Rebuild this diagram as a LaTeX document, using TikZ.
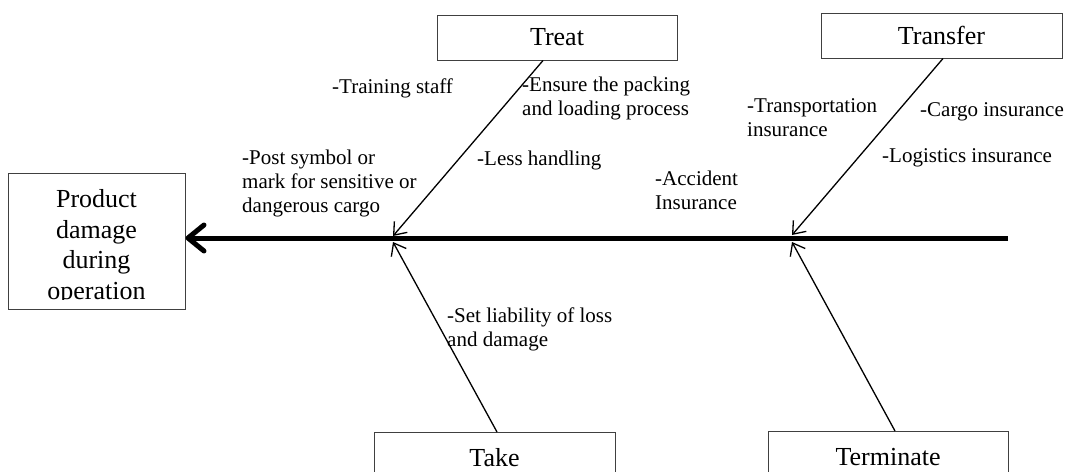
\documentclass[tikz,border=0pt]{standalone}
\usepackage{fontspec}
\setmainfont{Liberation Serif}
\usetikzlibrary{arrows.meta}
\begin{document}
\begin{tikzpicture}[x=1pt,y=-1pt,
  box/.style={draw=black!75, line width=1pt, rectangle, inner sep=0pt,
    font=\fontsize{26}{30.5}\selectfont},
  boxtext/.style={inner sep=0pt, font=\fontsize{26}{30.5}\selectfont},
  note/.style={align=left, inner sep=0pt, anchor=west,
    font=\fontsize{21}{24}\selectfont},
  bone/.style={line width=1.3pt, -{Straight Barb[length=11pt,width=17pt]}},
  spine/.style={line width=5pt, -{Straight Barb[length=16pt,width=26pt,round]}}]
\useasboundingbox (0,0) rectangle (1070,471);

% effect box (text clipped by the box margin)
\node[box, minimum width=177pt, minimum height=136pt] (effect) at (96.5,241) {};
\begin{scope}
  \clip (8,173) rectangle (185,299);
  \node[boxtext, align=center] (effecttext) at (96.5,247)
    {Product\\damage\\during\\operation};
\end{scope}

% category boxes
\node[box, minimum width=240pt, minimum height=45pt] (treat) at (557,37.5) {Treat};
\node[box, minimum width=241pt, minimum height=45pt] (transfer) at (941.5,35.5) {Transfer};
\node[box, minimum width=241pt, minimum height=70pt, anchor=north] (take) at (494.5,432) {};
\node[boxtext] (taketext) at (494.5,458) {Take};
\node[box, minimum width=240pt, minimum height=70pt, anchor=north] (terminate) at (888,431) {};
\node[boxtext] (terminatetext) at (888,457) {Terminate};

% spine
\coordinate (tail) at (1008,238);
\draw[spine] (tail) -- (effect.east |- tail);

% bones
\coordinate (treattip) at (393,236);
\coordinate (taketip) at (393,242);
\coordinate (transfertip) at (792,235);
\coordinate (termtip) at (792,242);
\draw[bone] ([xshift=-14pt]treat.south) -- (treattip);
\draw[bone] ([xshift=2.5pt]take.north) -- (taketip);
\draw[bone] ([xshift=1.5pt]transfer.south) -- (transfertip);
\draw[bone] ([xshift=7pt]terminate.north) -- (termtip);

% causes
\node[note] (training) at (332,88) {-Training staff};
\node[note] (ensure) at (522,98) {-Ensure the packing\\and loading process};
\node[note] (less) at (477,160) {-Less handling};
\node[note] (post) at (242,183) {-Post symbol or\\mark for sensitive or\\dangerous cargo};
\node[note] (accident) at (655,190) {-Accident\\Insurance};
\node[note] (transport) at (747,118) {-Transportation\\insurance};
\node[note] (cargo) at (920,112) {-Cargo insurance};
\node[note] (logistics) at (882,158) {-Logistics insurance};
\node[note] (liability) at (447,329) {-Set liability of loss\\and damage};
\end{tikzpicture}
\end{document}
